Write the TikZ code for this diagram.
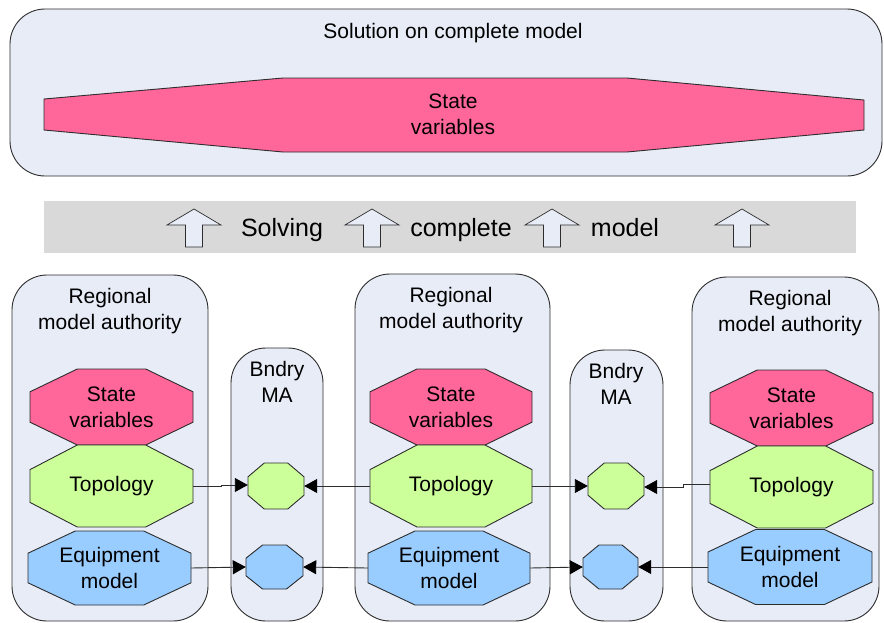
\documentclass[tikz,border=0pt]{standalone}
\usepackage{fontspec}
\setmainfont{Liberation Sans}
\usetikzlibrary{arrows.meta,calc}
\definecolor{panel}{RGB}{231,236,247}
\definecolor{pinkc}{RGB}{255,102,153}
\definecolor{greenc}{RGB}{204,255,153}
\definecolor{bluec}{RGB}{153,204,255}
\definecolor{bandc}{RGB}{217,217,217}
\definecolor{linec}{RGB}{45,45,45}
\tikzset{
  box/.style={fill=panel, draw=linec, line width=0.9pt, rounded corners=35pt},
  lbl/.style={inner sep=0pt, align=center, font=\fontsize{21}{26}\selectfont, text=black},
  bandlbl/.style={inner sep=0pt, font=\fontsize{25}{30}\selectfont, text=black},
  conn/.style={draw=linec, line width=0.9pt, -{Triangle[length=13pt,width=14pt,fill=black,color=black]}},
  octline/.style={draw=linec, line width=0.9pt},
}
\newcommand\myoct[7]{% name, cx, cy, w, h, color, text
  \filldraw[fill=#6, octline]
  ({#2-#4/2+0.29*#4},{#3-#5/2}) -- ({#2+#4/2-0.29*#4},{#3-#5/2}) --
  ({#2+#4/2},{#3-#5/2+0.3*#5}) -- ({#2+#4/2},{#3+#5/2-0.3*#5}) --
  ({#2+#4/2-0.29*#4},{#3+#5/2}) -- ({#2-#4/2+0.29*#4},{#3+#5/2}) --
  ({#2-#4/2},{#3+#5/2-0.3*#5}) -- ({#2-#4/2},{#3-#5/2+0.3*#5}) -- cycle;
  \node[lbl, minimum width=#4pt, minimum height=#5pt] (#1) at (#2,#3) {#7};
}
\newcommand\myuparrow[1]{%
  \filldraw[fill=panel, draw=linec, line width=0.7pt]
  (#1,209) -- ({#1+27},225) -- ({#1+8.5},225) -- ({#1+8.5},247) --
  ({#1-8.5},247) -- ({#1-8.5},225) -- ({#1-27},225) -- cycle;
}
\begin{document}
\begin{tikzpicture}[x=1pt,y=-1pt]
\useasboundingbox (0,0) rectangle (884,622);
\fill[white] (0,0) rectangle (884,622);

% top panel
\draw[box] (10,9) rectangle (882,176);
\node[lbl] (soltitle) at (453,33) {Solution on complete model};
\filldraw[fill=pinkc, octline] (44,99) -- (283,78) -- (627,78) -- (864,100) --
  (864,130) -- (627,152) -- (283,152) -- (44,130) -- cycle;
\node[lbl] (topsv) at (453,114) {State\\variables};

% band
\fill[bandc] (44,201) rectangle (856,253);
\myuparrow{194}
\myuparrow{372}
\myuparrow{552}
\myuparrow{742}
\node[bandlbl, anchor=base] (w1) at (282,236) {Solving};
\node[bandlbl, anchor=base] (w2) at (461,236) {complete};
\node[bandlbl, anchor=base] (w3) at (625,236) {model};

% lower panels
\draw[box] (12,275) rectangle (208,621);
\draw[box] (355,274) rectangle (550,621);
\draw[box] (692,277) rectangle (879,621);
\draw[box] (231,348) rectangle (323,621);
\draw[box] (570,350) rectangle (663,621);

\node[lbl] (rma1) at (110,311) {Regional\\model authority};
\node[lbl] (rma2) at (451,310) {Regional\\model authority};
\node[lbl] (rma3) at (790,313) {Regional\\model authority};
\node[lbl] (bma1) at (277,382) {Bndry\\MA};
\node[lbl] (bma2) at (616,384) {Bndry\\MA};

% left column
\myoct{LS}{111.5}{407}{163}{76}{pinkc}{State\\variables}
\myoct{LT}{111.5}{486}{163}{82}{greenc}{Topology}
\myoct{LE}{109.5}{568}{163}{74}{bluec}{Equipment\\model}
% middle column
\myoct{MS}{451}{407}{162}{76}{pinkc}{State\\variables}
\myoct{MT}{451}{486}{162}{82}{greenc}{Topology}
\myoct{ME}{449}{568}{162}{74}{bluec}{Equipment\\model}
% right column
\myoct{RS}{791.5}{408}{163}{76}{pinkc}{State\\variables}
\myoct{RT}{791.5}{487}{163}{82}{greenc}{Topology}
\myoct{RE}{790}{567}{164}{75}{bluec}{Equipment\\model}
% boundary octagons
\myoct{B1G}{276}{486}{56}{46}{greenc}{}
\myoct{B1B}{274.5}{567}{57}{44}{bluec}{}
\myoct{B2G}{616}{486}{56}{46}{greenc}{}
\myoct{B2B}{610.5}{567}{55}{44}{bluec}{}

% connectors
\coordinate (j1) at (221,485);
\coordinate (j2) at (683,487);
\draw[conn] (LT.east) -| (j1) -- (B1G.west |- j1);
\draw[conn] (MT.west) -- (B1G.east);
\draw[conn] (MT.east) -- (B2G.west);
\draw[conn] ([yshift=3pt]RT.west) -| (j2) -- (B2G.east |- j2);
\draw[conn] (LE.east) -- (B1B.west);
\draw[conn] (ME.west) -- (B1B.east);
\draw[conn] (ME.east) -- (B2B.west);
\draw[conn] (RE.west) -- (B2B.east);
\end{tikzpicture}
\end{document}
